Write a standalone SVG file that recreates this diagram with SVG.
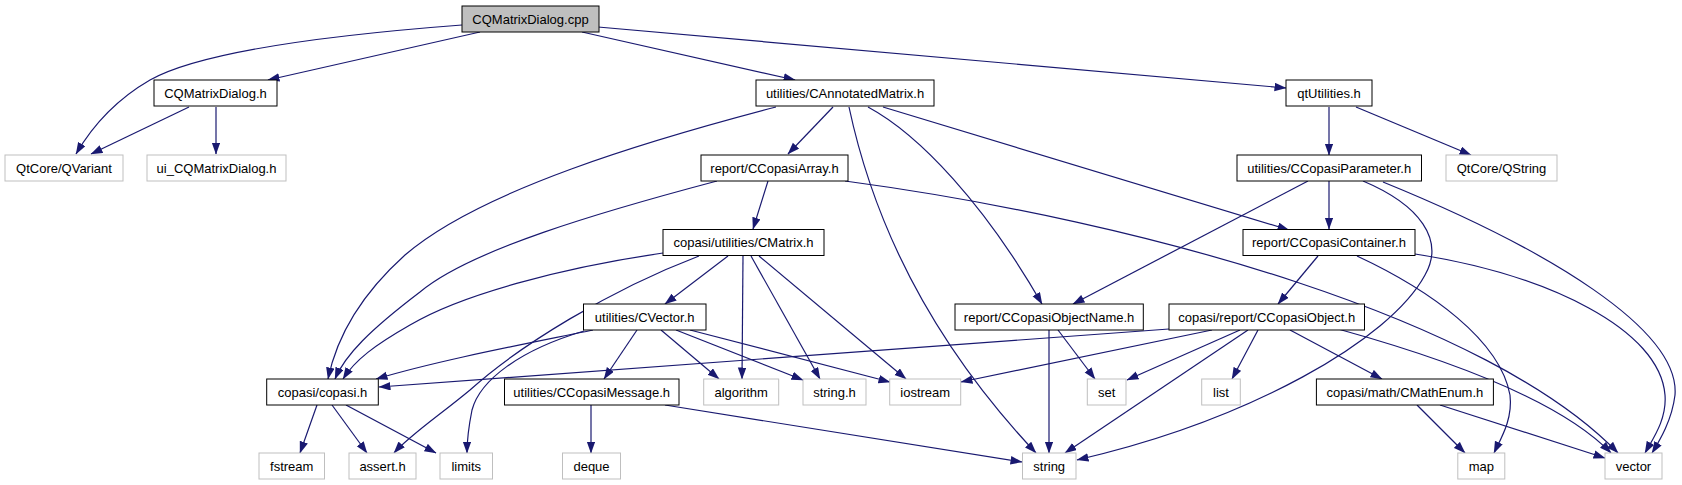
<svg xmlns="http://www.w3.org/2000/svg" width="1682" height="485" viewBox="0 0 1682 485">
<style>
.n rect{fill:#fff;stroke:#000;stroke-width:1}
.g rect{fill:#fff;stroke:#bfbfbf;stroke-width:1}
.r rect{fill:#bfbfbf;stroke:#000;stroke-width:1}
text{font-family:"Liberation Sans",Arial,sans-serif;font-size:13px;fill:#000;text-anchor:middle}
#edges path{fill:none;stroke:#191970;stroke-width:1.2;marker-end:url(#a)}
</style>
<defs>
<marker id="a" markerWidth="12" markerHeight="9" refX="11.5" refY="4.25" orient="auto" markerUnits="userSpaceOnUse"><path d="M0,0L12,4.25L0,8.5z" fill="#191970"/></marker>
</defs>
<rect width="1682" height="485" fill="#fff"/>
<g id="edges">
<path d="M462,25 C330,35 200,52 150,80 C112,102 90,130 76,154"/>
<path d="M480,32 L268,80"/>
<path d="M582,32 L795,80"/>
<path d="M598,27 L1286,88"/>
<path d="M189,107 L91,154"/>
<path d="M216,107 L216,154"/>
<path d="M776,107 C650,140 480,190 405,255 C355,300 335,345 328,379"/>
<path d="M833,107 L788,154"/>
<path d="M849,107 C872,215 925,335 1036,453"/>
<path d="M868,107 C920,135 985,205 1042,304"/>
<path d="M883,107 L1289,230"/>
<path d="M717,181 C600,212 470,250 420,292 C370,330 345,355 335,379"/>
<path d="M768,181 L753,229"/>
<path d="M845,181 C1150,222 1490,320 1618,453"/>
<path d="M1329,107 L1329,155"/>
<path d="M1356,107 L1471,155"/>
<path d="M1329,181 L1329,229"/>
<path d="M1308,181 L1073,304"/>
<path d="M1363,181 C1420,205 1445,240 1425,275 C1390,340 1250,420 1077,460"/>
<path d="M1383,182 C1550,250 1680,330 1675,395 C1672,420 1660,440 1652,453"/>
<path d="M1415,254 C1550,275 1660,330 1665,395 C1667,420 1652,440 1645,453"/>
<path d="M1357,256 C1430,290 1500,340 1510,395 C1513,420 1500,440 1494,453"/>
<path d="M1318,256 L1278,304"/>
<path d="M663,253 C560,268 460,295 410,325 C375,345 355,360 343,379"/>
<path d="M699,256 C610,290 520,345 470,390 C440,415 410,435 394,453"/>
<path d="M728,256 L665,304"/>
<path d="M743,256 L742,379"/>
<path d="M751,256 L820,379"/>
<path d="M759,256 L906,379"/>
<path d="M593,330 C520,345 440,360 376,379"/>
<path d="M584,331 C520,350 480,380 472,410 C468,430 467,445 467,453"/>
<path d="M637,330 L604,379"/>
<path d="M661,330 L719,379"/>
<path d="M676,330 L803,380"/>
<path d="M690,330 L890,382"/>
<path d="M1049,330 L1049,453"/>
<path d="M1058,330 L1095,379"/>
<path d="M1169,329 L379,387"/>
<path d="M1212,330 L961,382"/>
<path d="M1240,330 L1127,380"/>
<path d="M1248,330 L1065,453"/>
<path d="M1258,330 L1232,379"/>
<path d="M1290,330 L1382,379"/>
<path d="M1338,329 C1450,360 1560,400 1611,453"/>
<path d="M1417,405 L1465,453"/>
<path d="M1440,405 L1605,458"/>
<path d="M317,405 L300,453"/>
<path d="M332,405 L367,453"/>
<path d="M346,405 L436,453"/>
<path d="M591,405 L591,453"/>
<path d="M665,405 L1022,462"/>
</g>
<g id="n_cpp" class="r"><rect x="462" y="6" width="137" height="26"/><text x="530.5" y="23.5">CQMatrixDialog.cpp</text></g>
<g id="n_dlg_h" class="n"><rect x="154" y="80" width="123" height="26"/><text x="215.5" y="97.5">CQMatrixDialog.h</text></g>
<g id="n_annot" class="n"><rect x="756" y="80" width="178" height="26"/><text x="845" y="97.5">utilities/CAnnotatedMatrix.h</text></g>
<g id="n_qtutil" class="n"><rect x="1286" y="80" width="86" height="26"/><text x="1329" y="97.5">qtUtilities.h</text></g>
<g id="n_qvariant" class="g"><rect x="5" y="155" width="118" height="26"/><text x="64" y="172.5">QtCore/QVariant</text></g>
<g id="n_ui" class="g"><rect x="147" y="155" width="139" height="26"/><text x="216.5" y="172.5">ui_CQMatrixDialog.h</text></g>
<g id="n_array" class="n"><rect x="701" y="155" width="147" height="26"/><text x="774.5" y="172.5">report/CCopasiArray.h</text></g>
<g id="n_param" class="n"><rect x="1237" y="155" width="184.5" height="26"/><text x="1329.2" y="172.5">utilities/CCopasiParameter.h</text></g>
<g id="n_qstring" class="g"><rect x="1446" y="155" width="111" height="26"/><text x="1501.5" y="172.5">QtCore/QString</text></g>
<g id="n_cmatrix" class="n"><rect x="663" y="229.5" width="161" height="26"/><text x="743.5" y="247">copasi/utilities/CMatrix.h</text></g>
<g id="n_container" class="n"><rect x="1243" y="229.5" width="172" height="26"/><text x="1329" y="247">report/CCopasiContainer.h</text></g>
<g id="n_cvector" class="n"><rect x="583.5" y="304" width="122.5" height="26"/><text x="644.7" y="321.5">utilities/CVector.h</text></g>
<g id="n_objname" class="n"><rect x="955" y="304" width="188.3" height="26"/><text x="1049.1" y="321.5">report/CCopasiObjectName.h</text></g>
<g id="n_object" class="n"><rect x="1169" y="304" width="195.5" height="26"/><text x="1266.7" y="321.5">copasi/report/CCopasiObject.h</text></g>
<g id="n_copasi" class="n"><rect x="266.7" y="379" width="111.6" height="26"/><text x="322.5" y="396.5">copasi/copasi.h</text></g>
<g id="n_msg" class="n"><rect x="504.5" y="379" width="174.5" height="26"/><text x="591.7" y="396.5">utilities/CCopasiMessage.h</text></g>
<g id="n_algorithm" class="g"><rect x="703.7" y="379" width="75" height="26"/><text x="741.2" y="396.5">algorithm</text></g>
<g id="n_stringh" class="g"><rect x="803" y="379" width="63" height="26"/><text x="834.5" y="396.5">string.h</text></g>
<g id="n_iostream" class="g"><rect x="889.7" y="379" width="71" height="26"/><text x="925.2" y="396.5">iostream</text></g>
<g id="n_set" class="g"><rect x="1087.3" y="379" width="38.7" height="26"/><text x="1106.6" y="396.5">set</text></g>
<g id="n_list" class="g"><rect x="1201.7" y="379" width="38.6" height="26"/><text x="1221" y="396.5">list</text></g>
<g id="n_mathenum" class="n"><rect x="1316.4" y="379" width="177" height="26"/><text x="1404.9" y="396.5">copasi/math/CMathEnum.h</text></g>
<g id="n_fstream" class="g"><rect x="259" y="453" width="65.5" height="26"/><text x="291.7" y="470.5">fstream</text></g>
<g id="n_assert" class="g"><rect x="349" y="453" width="67" height="26"/><text x="382.5" y="470.5">assert.h</text></g>
<g id="n_limits" class="g"><rect x="440" y="453" width="52.5" height="26"/><text x="466.2" y="470.5">limits</text></g>
<g id="n_deque" class="g"><rect x="562.5" y="453" width="58" height="26"/><text x="591.5" y="470.5">deque</text></g>
<g id="n_string" class="g"><rect x="1022.5" y="453" width="53.5" height="26"/><text x="1049.2" y="470.5">string</text></g>
<g id="n_map" class="g"><rect x="1457.8" y="453" width="47" height="26"/><text x="1481.3" y="470.5">map</text></g>
<g id="n_vector" class="g"><rect x="1605" y="453" width="57" height="26"/><text x="1633.5" y="470.5">vector</text></g>
</svg>
